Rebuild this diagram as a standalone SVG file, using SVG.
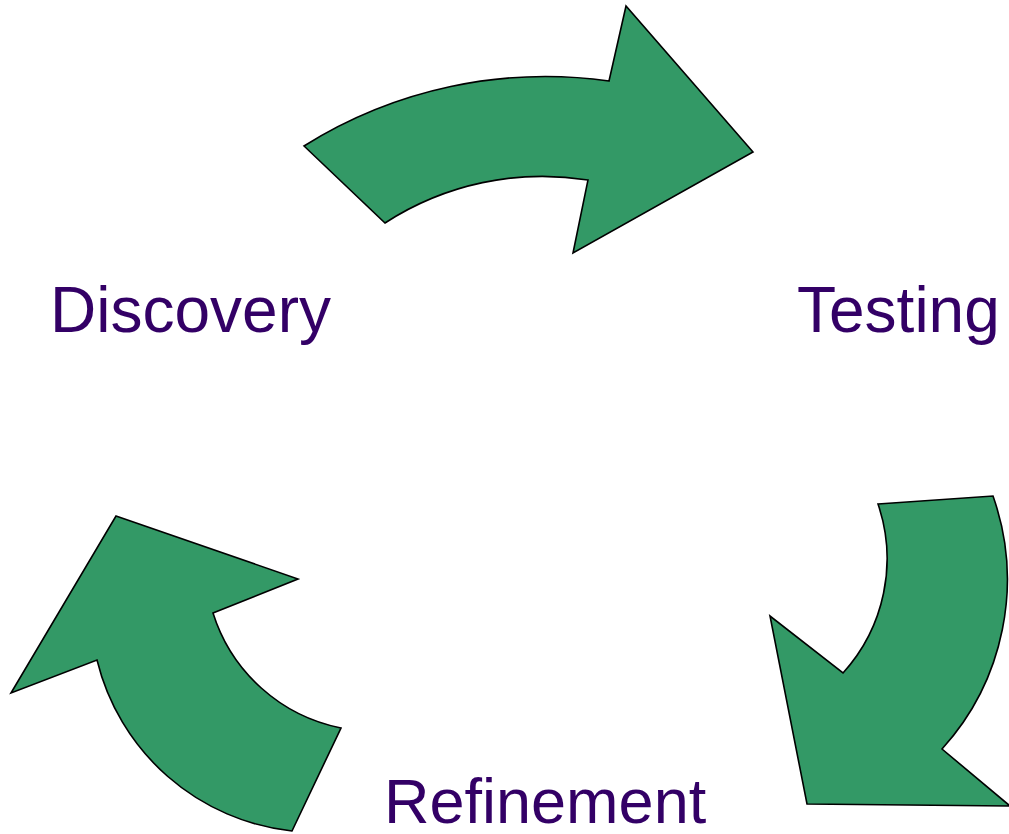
<svg xmlns="http://www.w3.org/2000/svg" width="1009" height="834" viewBox="0 0 1009 834">
<style>
.arrow{fill:#339966;stroke:#000;stroke-width:1.6;stroke-linejoin:miter}
.label{font-family:"Liberation Sans",Arial,sans-serif;font-size:64px;fill:#330066}
</style>
<rect width="1009" height="834" fill="#fff"/>
<g id="connectors">
<path id="arrow-discovery-testing" class="arrow" d="M304,146 A455,455 0 0 1 609,81 L626,6 L753,152 L573,253 L588,180 A289,289 0 0 0 385,223 Z"/>
<path id="arrow-testing-refinement" class="arrow" d="M878,504 L993,496 A252,252 0 0 1 942,749 L1010,806 L807,804 L770,616 L843,673 A170,170 0 0 0 878,504 Z"/>
<path id="arrow-refinement-discovery" class="arrow" d="M116,516 L298,579 L213,613 A169,169 0 0 0 341,728 L292,831 A226,226 0 0 1 97,660 L11,693 Z"/>
</g>
<g id="node-discovery"><text class="label" x="50" y="332">Discovery</text></g>
<g id="node-testing"><text class="label" x="797" y="332">Testing</text></g>
<g id="node-refinement"><text class="label" x="384" y="823" style="font-size:63px">Refinement</text></g>
</svg>
